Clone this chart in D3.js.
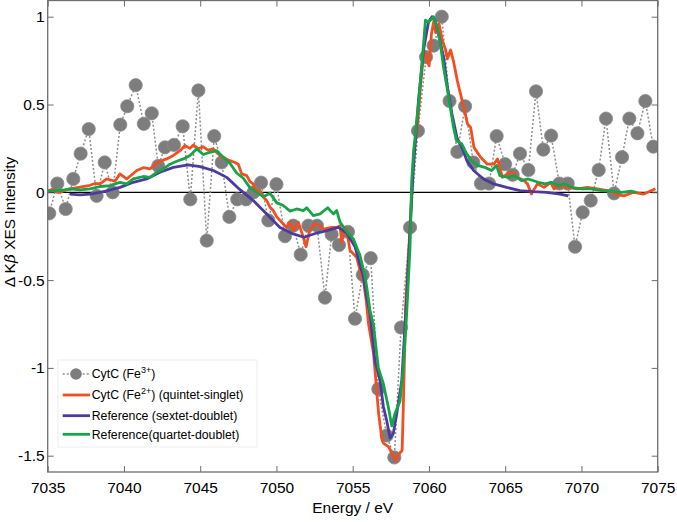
<!DOCTYPE html>
<html>
<head>
<meta charset="utf-8">
<script src="https://cdn.jsdelivr.net/npm/d3@7"></script>
<style>
  html, body { margin: 0; padding: 0; background: #fff; }
  svg { display: block; font-family: "Liberation Sans", Arial, Helvetica, sans-serif; }
</style>
</head>
<body>
<svg id="chart" width="677" height="522"></svg>
<script>
// ---------- DATA ----------
const xTicks = [7035, 7040, 7045, 7050, 7055, 7060, 7065, 7070, 7075];
const yTicks = [-1.5, -1, -0.5, 0, 0.5, 1];

// CytC (Fe3+) measured points
const fe3E = [7035.10,7035.63,7036.18,7036.68,7037.16,7037.69,7038.21,7038.74,7039.26,7039.76,
  7040.22,7040.77,7041.30,7041.82,7042.25,7042.69,7043.28,7043.85,7044.35,7044.88,
  7045.43,7045.92,7046.41,7046.91,7047.43,7048.00,7048.50,7048.99,7049.47,7050.00,
  7050.56,7051.10,7051.59,7052.09,7052.66,7053.18,7053.62,7054.10,7054.69,7055.15,
  7055.66,7056.18,7056.68,7057.23,7057.73,7058.17,7058.76,7059.28,7059.81,7060.30,
  7060.84,7061.35,7061.86,7062.37,7062.91,7063.41,7063.94,7064.44,7064.99,7065.49,
  7065.97,7066.52,7067.02,7067.50,7068.01,7068.55,7069.10,7069.58,7070.08,7070.61,
  7071.13,7071.61,7072.14,7072.66,7073.14,7073.67,7074.19,7074.71];
const fe3V = [-0.12,0.05,-0.095,0.076,0.22,0.36,-0.02,0.17,0.0,0.385,
  0.49,0.61,0.39,0.45,0.15,0.256,0.27,0.376,-0.04,0.58,
  -0.275,0.32,0.17,-0.14,-0.04,-0.04,0.0,0.055,-0.16,0.046,
  -0.25,-0.19,-0.355,-0.19,-0.19,-0.6,-0.24,-0.30,-0.225,-0.72,
  -0.47,-0.375,-1.12,-1.385,-1.51,-0.77,-0.2,0.35,0.77,0.835,
  1.0,0.52,0.23,0.49,0.17,0.05,0.05,0.32,0.16,0.10,
  0.22,0.127,0.575,0.243,0.323,0.05,0.05,-0.31,-0.114,-0.047,
  0.127,0.42,-0.006,0.2,0.42,0.336,0.52,0.26];

// CytC (Fe2+) (quintet-singlet)
const redE = [7035.00,7035.37,7035.61,7035.81,7036.46,7037.12,7037.77,7038.10,7038.43,7038.87,
  7039.41,7039.74,7040.18,7040.84,7041.27,7041.71,7042.15,7042.80,7043.24,7043.68,
  7044.00,7044.33,7044.55,7044.88,7045.18,7045.51,7045.86,7046.17,7046.41,7046.69,
  7046.95,7047.28,7047.50,7047.72,7048.05,7048.27,7048.48,7048.70,7048.92,7049.14,
  7049.36,7049.58,7049.79,7050.02,7050.23,7050.45,7050.67,7050.89,7051.11,7051.43,
  7051.76,7051.94,7052.20,7052.53,7052.86,7053.07,7053.62,7053.97,7054.17,7054.28,
  7054.43,7054.61,7054.82,7055.26,7055.59,7055.70,7055.89,7056.04,7056.37,7056.70,
  7056.92,7057.03,7057.36,7057.59,7057.81,7058.03,7058.24,7058.32,7058.47,7058.69,
  7058.91,7059.02,7059.24,7059.46,7059.67,7059.90,7060.01,7060.16,7060.33,7060.44,
  7060.66,7060.89,7061.10,7061.21,7061.42,7061.60,7061.86,7062.07,7062.29,7062.52,
  7062.73,7062.95,7063.39,7063.83,7064.26,7064.49,7064.70,7064.81,7065.14,7065.47,
  7065.80,7066.23,7066.46,7066.72,7067.11,7067.55,7067.98,7068.20,7068.64,7069.08,
  7069.74,7070.39,7071.05,7071.69,7072.24,7072.78,7073.43,7074.09,7074.85];
const redV = [0.004,0.02,0.0,0.0,0.02,0.03,0.04,0.05,0.048,0.076,
  0.063,0.105,0.076,0.124,0.14,0.133,0.17,0.19,0.21,0.237,
  0.266,0.25,0.27,0.247,0.26,0.24,0.247,0.22,0.2,0.19,
  0.18,0.17,0.16,0.105,0.095,0.06,0.048,0.0,0.01,-0.028,
  -0.047,-0.085,-0.104,-0.14,-0.16,-0.18,-0.2,-0.17,-0.218,-0.17,
  -0.256,-0.31,-0.21,-0.18,-0.19,-0.21,-0.2,-0.2,-0.19,-0.285,
  -0.21,-0.21,-0.33,-0.37,-0.48,-0.5,-0.62,-0.75,-0.92,-1.26,
  -1.41,-1.43,-1.45,-1.49,-1.53,-1.49,-1.47,-1.22,-0.65,-0.31,
  0.067,0.24,0.37,0.62,0.81,0.75,0.72,0.9,0.98,0.91,
  0.96,0.86,0.81,0.76,0.81,0.75,0.636,0.56,0.484,0.39,
  0.37,0.256,0.2,0.16,0.16,0.19,0.124,0.085,0.105,0.114,
  0.085,0.067,0.048,-0.01,0.048,0.028,0.057,0.02,0.038,0.028,
  0.02,0.028,0.02,0.01,-0.01,-0.02,0.0,-0.01,0.02];

// Reference (sextet-doublet)
const blueE = [7036.46,7037.12,7037.77,7038.43,7039.09,7039.74,7040.61,7041.49,7042.36,7043.24,
  7044.22,7044.99,7045.86,7046.74,7047.61,7048.48,7049.36,7050.23,7051.10,7051.81,
  7052.64,7053.30,7054.06,7054.61,7055.15,7055.59,7055.70,7055.92,7056.13,7056.46,
  7056.79,7057.01,7057.23,7057.45,7057.66,7057.89,7058.22,7058.54,7058.87,7058.98,
  7059.31,7059.64,7059.97,7060.20,7060.41,7060.63,7060.96,7061.18,7061.51,7061.84,
  7062.16,7062.49,7062.93,7063.58,7064.24,7065.10,7065.97,7066.85,7067.72,7068.59,
  7069.14];
const blueV = [-0.01,-0.015,-0.01,0.0,0.013,0.028,0.057,0.076,0.114,0.142,
  0.156,0.146,0.124,0.085,0.015,-0.047,-0.123,-0.2,-0.237,-0.256,
  -0.232,-0.218,-0.2,-0.232,-0.31,-0.446,-0.48,-0.6,-0.69,-0.96,
  -1.07,-1.22,-1.3,-1.4,-1.375,-1.26,-1.07,-0.6,-0.03,0.142,
  0.52,0.807,0.97,1.0,0.98,0.9,0.77,0.62,0.446,0.31,
  0.256,0.18,0.124,0.076,0.048,0.028,0.01,0.004,0.0,-0.01,
  -0.02];

// Reference (quartet-doublet)
const greenE = [7035.00,7035.81,7036.46,7037.12,7037.77,7038.43,7039.09,7039.74,7040.18,7040.61,
  7041.27,7041.71,7042.15,7042.58,7043.02,7043.46,7043.89,7044.33,7044.77,7045.20,
  7045.64,7046.08,7046.51,7046.95,7047.39,7047.83,7048.27,7048.70,7049.14,7049.58,
  7050.02,7050.45,7050.89,7051.33,7051.76,7051.98,7052.42,7052.86,7053.36,7053.73,
  7053.95,7054.17,7054.61,7055.04,7055.48,7055.81,7055.92,7056.13,7056.35,7056.68,
  7057.01,7057.33,7057.56,7057.77,7058.10,7058.32,7058.54,7058.76,7058.87,7059.00,
  7059.33,7059.66,7059.77,7059.98,7060.31,7060.53,7060.75,7060.96,7061.18,7061.40,
  7061.61,7061.81,7062.16,7062.47,7062.79,7063.23,7063.67,7064.11,7064.43,7064.65,
  7065.20,7065.63,7066.07,7066.51,7067.17,7067.61,7068.04,7068.48,7068.92,7069.35,
  7070.01,7070.66,7071.32,7071.97,7072.63,7073.28,7073.61];
const greenV = [0.01,0.01,0.02,0.014,0.02,0.033,0.038,0.057,0.048,0.076,
  0.09,0.085,0.114,0.133,0.16,0.177,0.19,0.21,0.247,0.215,
  0.228,0.237,0.2,0.165,0.11,0.08,0.025,0.0,-0.025,-0.005,
  -0.06,-0.075,-0.107,-0.095,-0.104,-0.088,-0.133,-0.123,-0.088,-0.123,
  -0.104,-0.17,-0.225,-0.265,-0.36,-0.48,-0.54,-0.67,-0.75,-1.0,
  -1.09,-1.22,-1.33,-1.26,-1.19,-1.0,-0.69,-0.31,0.07,0.237,
  0.52,0.86,0.98,0.97,1.0,0.94,0.845,0.71,0.6,0.484,
  0.37,0.294,0.275,0.22,0.18,0.152,0.142,0.124,0.152,0.095,
  0.085,0.095,0.067,0.076,0.057,0.048,0.057,0.038,0.048,0.028,
  0.02,0.02,0.01,0.006,0.0,0.006,0.0];

const seriesNames = ["CytC (Fe", "CytC (Fe", "Reference (sextet-doublet)", "Reference(quartet-doublet)"];
const colors = { fe3: "#7d7d7d", red: "#f24f21", blue: "#4a3c9f", green: "#17a449" };

// ---------- LAYOUT ----------
const svg = d3.select("#chart");
const L = 47.7, R = 657.7, T = 0.5, B = 472;
const x = d3.scaleLinear().domain([7035, 7075]).range([L, R]);
const y = d3.scaleLinear().domain([-1.5, 1]).range([455.7, 16.7]);

svg.append("defs").append("clipPath").attr("id", "clip")
  .append("rect").attr("x", L).attr("y", T).attr("width", R - L).attr("height", B - T);

const frameColor = "#6e6e6e";
const tickFont = "15.5px";

// zero line
svg.append("line").attr("x1", L).attr("x2", R).attr("y1", y(0)).attr("y2", y(0))
  .attr("stroke", "#000").attr("stroke-width", 1.2);

const plot = svg.append("g").attr("clip-path", "url(#clip)");

// Fe3+ dotted line & dots
const fe3 = fe3E.map((e, i) => [e, fe3V[i]]);
const line = d3.line().x(d => x(d[0])).y(d => y(d[1]));
plot.append("path").datum(fe3).attr("d", line).attr("fill", "none")
  .attr("stroke", "#8e8e8e").attr("stroke-width", 1.5).attr("stroke-dasharray", "2,2");
plot.selectAll("circle.fe3").data(fe3).join("circle").attr("class", "fe3")
  .attr("cx", d => x(d[0])).attr("cy", d => y(d[1])).attr("r", 6.6)
  .attr("fill", colors.fe3).attr("stroke", "#8a8a8a").attr("stroke-width", 0.8);

function drawLine(E, V, col) {
  plot.append("path").datum(E.map((e, i) => [e, V[i]])).attr("d", line)
    .attr("fill", "none").attr("stroke", col).attr("stroke-width", 2.8)
    .attr("stroke-linejoin", "round");
}
drawLine(redE, redV, colors.red);
drawLine(blueE, blueV, colors.blue);
drawLine(greenE, greenV, colors.green);

// ---------- AXES ----------
function styleAxis(g) {
  g.select(".domain").remove();
  g.selectAll(".tick line").attr("stroke", frameColor).attr("stroke-width", 1);
  g.selectAll(".tick text").attr("fill", "#000").style("font-size", tickFont)
    .style("font-family", "'Liberation Sans', Arial, sans-serif");
}
svg.append("g").attr("transform", `translate(0,${B})`)
  .call(d3.axisBottom(x).tickValues(xTicks).tickSize(-6).tickPadding(10).tickFormat(d => String(d)))
  .call(styleAxis);
svg.append("g").attr("transform", `translate(0,${T})`)
  .call(d3.axisTop(x).tickValues(xTicks).tickSize(-6).tickFormat(""))
  .call(styleAxis);
svg.append("g").attr("transform", `translate(${L},0)`)
  .call(d3.axisLeft(y).tickValues(yTicks).tickSize(-6).tickPadding(3).tickFormat(d => String(d)))
  .call(styleAxis);
svg.append("g").attr("transform", `translate(${R},0)`)
  .call(d3.axisRight(y).tickValues(yTicks).tickSize(-6).tickFormat(""))
  .call(styleAxis);

// frame
svg.append("rect").attr("x", L).attr("y", T).attr("width", R - L).attr("height", B - T)
  .attr("fill", "none").attr("stroke", frameColor).attr("stroke-width", 1.3);

// axis titles
svg.append("text").attr("x", (L + R) / 2).attr("y", 513).attr("text-anchor", "middle")
  .style("font-size", "15.5px").text("Energy / eV");
const yt = svg.append("text").attr("transform", "translate(15,222) rotate(-90)")
  .attr("text-anchor", "middle").style("font-size", "15.5px");
yt.append("tspan").text("Δ K");
yt.append("tspan").style("font-style", "italic").style("font-family", "'DejaVu Serif', serif").text("β");
yt.append("tspan").text(" XES Intensity");

// ---------- LEGEND ----------
const lg = svg.append("g");
lg.append("rect").attr("x", 58).attr("y", 360).attr("width", 199).attr("height", 87)
  .attr("fill", "#fff").attr("stroke", "#ededed").attr("stroke-width", 1);
const legY = [374, 395, 415.7, 434.3];
const lx1 = 62.7, lx2 = 90, tx = 91.7;
// item 1
lg.append("line").attr("x1", lx1).attr("x2", lx2).attr("y1", legY[0]).attr("y2", legY[0])
  .attr("stroke", "#8e8e8e").attr("stroke-width", 1.5).attr("stroke-dasharray", "2,2");
lg.append("circle").attr("cx", 76).attr("cy", legY[0]).attr("r", 5.8).attr("fill", colors.fe3);
const legCols = [null, colors.red, colors.blue, colors.green];
for (let i = 1; i < 4; i++) {
  lg.append("line").attr("x1", lx1).attr("x2", lx2).attr("y1", legY[i]).attr("y2", legY[i])
    .attr("stroke", legCols[i]).attr("stroke-width", 2.8);
}
const legFont = "12.3px";
function supText(yy, sup, rest) {
  const t = lg.append("text").attr("x", tx).attr("y", yy + 4.4).style("font-size", legFont);
  t.append("tspan").text("CytC (Fe");
  t.append("tspan").attr("dy", -5).style("font-size", "9px").text(sup);
  t.append("tspan").attr("dy", 5).text(rest);
}
supText(legY[0], "3+", ")");
supText(legY[1], "2+", ") (quintet-singlet)");
lg.append("text").attr("x", tx).attr("y", legY[2] + 4.4).style("font-size", legFont).text(seriesNames[2]);
lg.append("text").attr("x", tx).attr("y", legY[3] + 4.4).style("font-size", legFont).text(seriesNames[3]);
</script>
</body>
</html>
